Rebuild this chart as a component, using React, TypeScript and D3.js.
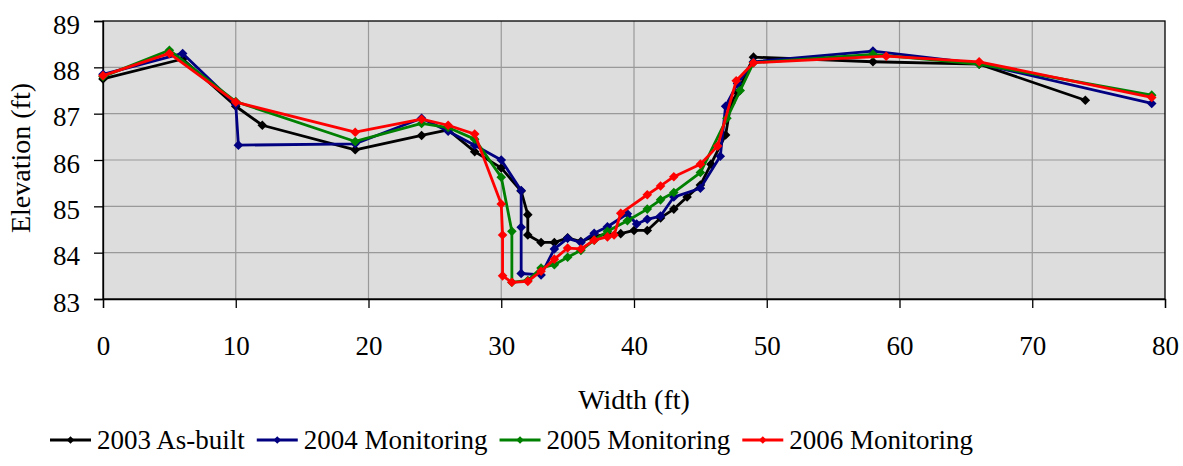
import React, { useEffect, useRef } from "react";
import * as d3 from "d3";

const xTicks = [0, 10, 20, 30, 40, 50, 60, 70, 80];
const yTicks = [83, 84, 85, 86, 87, 88, 89];

const asBuilt2003X = [0, 6, 10, 12, 19, 24, 26, 28, 30, 31.5, 32, 32, 33, 34, 35, 36, 37, 38, 39, 40, 41, 42, 43, 44, 45, 45.8, 46.9, 47.3, 47.8, 49, 58, 66, 74];
const asBuilt2003Y = [87.75, 88.18, 87.16, 86.75, 86.22, 86.53, 86.65, 86.18, 85.83, 85.33, 84.82, 84.38, 84.22, 84.22, 84.32, 84.24, 84.35, 84.4, 84.41, 84.48, 84.48, 84.75, 84.94, 85.2, 85.46, 85.91, 86.54, 87.23, 87.45, 88.22, 88.12, 88.07, 87.29];

const mon2004X = [0, 6, 10, 10.2, 19, 24, 26, 28, 30, 31.5, 31.5, 31.5, 33, 34, 35, 36, 37, 38, 39.5, 40.2, 41, 42, 43, 45, 46.5, 46.9, 47.8, 49, 58, 66, 79];
const mon2004Y = [87.85, 88.3, 87.2, 86.32, 86.35, 86.9, 86.62, 86.32, 86.0, 85.34, 84.55, 83.55, 83.52, 84.08, 84.31, 84.22, 84.42, 84.56, 84.84, 84.62, 84.72, 84.79, 85.2, 85.39, 86.08, 87.16, 87.65, 88.12, 88.35, 88.08, 87.22];

const mon2005X = [0, 5, 10, 19, 24, 26, 28, 30, 30.8, 30.8, 32, 33, 34, 35, 36, 37, 38, 39.5, 41, 42, 43, 45, 47, 48, 49, 58, 66, 79];
const mon2005Y = [87.8, 88.37, 87.26, 86.4, 86.79, 86.7, 86.45, 85.63, 84.46, 83.36, 83.4, 83.67, 83.74, 83.9, 84.05, 84.27, 84.46, 84.69, 84.94, 85.14, 85.3, 85.73, 86.9, 87.5, 88.1, 88.28, 88.07, 87.4];

const mon2006X = [0, 5, 10, 19, 24, 26, 28, 30, 30.1, 30.1, 30.8, 32, 33, 34, 35, 36, 37, 38, 38.5, 39, 41, 42, 43, 45, 46.3, 47.7, 49, 59, 66, 79];
const mon2006Y = [87.82, 88.3, 87.25, 86.6, 86.88, 86.75, 86.56, 85.05, 84.38, 83.5, 83.36, 83.38, 83.6, 83.86, 84.1, 84.08, 84.27, 84.34, 84.38, 84.85, 85.25, 85.44, 85.64, 85.91, 86.3, 87.71, 88.1, 88.24, 88.12, 87.35];

const seriesNames = ["2003 As-built", "2004 Monitoring", "2005 Monitoring", "2006 Monitoring"];
const seriesColors = ["#000000", "#000080", "#008000", "#ff0000"];
const seriesX = [asBuilt2003X, mon2004X, mon2005X, mon2006X];
const seriesY = [asBuilt2003Y, mon2004Y, mon2005Y, mon2006Y];

const FONT = "'Liberation Serif', 'Times New Roman', serif";

function diamond(cx: number, cy: number, r: number) {
  return `M${cx},${cy - r}L${cx + r},${cy}L${cx},${cy + r}L${cx - r},${cy}Z`;
}

export default function App() {
  const ref = useRef<SVGSVGElement>(null);

  useEffect(() => {
    const svg = d3.select(ref.current);
    svg.selectAll("*").remove();

    const left = 103, top = 21, right = 1165, bottom = 299;
    const x = d3.scaleLinear().domain([0, 80]).range([left, right]);
    const y = d3.scaleLinear().domain([83, 89]).range([bottom, top]);

    svg.append("rect")
      .attr("x", left).attr("y", top)
      .attr("width", right - left).attr("height", bottom - top)
      .attr("fill", "#dddddd");

    // grid
    svg.append("g").selectAll("line")
      .data(xTicks.slice(1, -1))
      .enter().append("line")
      .attr("x1", (d) => x(d)).attr("x2", (d) => x(d))
      .attr("y1", top).attr("y2", bottom)
      .attr("stroke", "#999").attr("stroke-width", 1.2);
    svg.append("g").selectAll("line")
      .data(yTicks.slice(1, -1))
      .enter().append("line")
      .attr("x1", left).attr("x2", right)
      .attr("y1", (d) => y(d)).attr("y2", (d) => y(d))
      .attr("stroke", "#999").attr("stroke-width", 1.2);

    svg.append("rect")
      .attr("x", left).attr("y", top)
      .attr("width", right - left).attr("height", bottom - top)
      .attr("fill", "none").attr("stroke", "#000").attr("stroke-width", 1.3);

    const yAxis = svg.append("g")
      .attr("transform", `translate(${left},0)`)
      .call(d3.axisLeft(y).tickValues(yTicks).tickSize(9).tickPadding(14).tickFormat(d3.format("d")));
    const xAxis = svg.append("g")
      .attr("transform", `translate(0,${bottom})`)
      .call(d3.axisBottom(x).tickValues(xTicks).tickSize(9).tickPadding(28).tickFormat(d3.format("d")));
    [xAxis, yAxis].forEach((g) => {
      g.select(".domain").attr("stroke", "#000").attr("stroke-width", 1.3);
      g.selectAll(".tick line").attr("stroke", "#000").attr("stroke-width", 1.3);
      g.selectAll(".tick text")
        .attr("fill", "#000")
        .attr("font-family", FONT)
        .attr("font-size", "27px");
    });
    yAxis.selectAll(".tick text").attr("dy", "0.45em");

    svg.append("text")
      .attr("x", (left + right) / 2).attr("y", 409)
      .attr("text-anchor", "middle")
      .attr("font-family", FONT).attr("font-size", "28px")
      .text("Width (ft)");
    svg.append("text")
      .attr("transform", "translate(30,158) rotate(-90)")
      .attr("text-anchor", "middle")
      .attr("font-family", FONT).attr("font-size", "28px")
      .text("Elevation (ft)");

    seriesNames.forEach((name, s) => {
      const xs = seriesX[s];
      const ys = seriesY[s];
      const pts: [number, number][] = xs.map((v, i) => [x(v), y(ys[i])]);
      const g = svg.append("g");
      g.append("path")
        .attr("d", d3.line()(pts))
        .attr("fill", "none")
        .attr("stroke", seriesColors[s])
        .attr("stroke-width", 2.8)
        .attr("stroke-linejoin", "round");
      g.selectAll("path.m")
        .data(pts)
        .enter().append("path")
        .attr("class", "m")
        .attr("d", (p) => diamond(p[0], p[1], 4.8))
        .attr("fill", seriesColors[s]);
    });

    // legend
    let lx = 50;
    const ly = 440;
    seriesNames.forEach((name, s) => {
      const g = svg.append("g");
      g.append("line")
        .attr("x1", lx).attr("x2", lx + 41)
        .attr("y1", ly).attr("y2", ly)
        .attr("stroke", seriesColors[s]).attr("stroke-width", 3);
      g.append("path")
        .attr("d", diamond(lx + 20.5, ly, 3.8))
        .attr("fill", seriesColors[s]);
      const t = g.append("text")
        .attr("x", lx + 47).attr("y", ly + 9)
        .attr("font-family", FONT).attr("font-size", "27px")
        .text(name);
      const w = (t.node() as SVGTextElement).getComputedTextLength();
      lx = lx + 47 + w + 12;
    });
  }, []);

  return (
    <svg
      ref={ref}
      width={1183}
      height={466}
      style={{ position: "absolute", left: 0, top: 0, background: "#fff" }}
    />
  );
}
